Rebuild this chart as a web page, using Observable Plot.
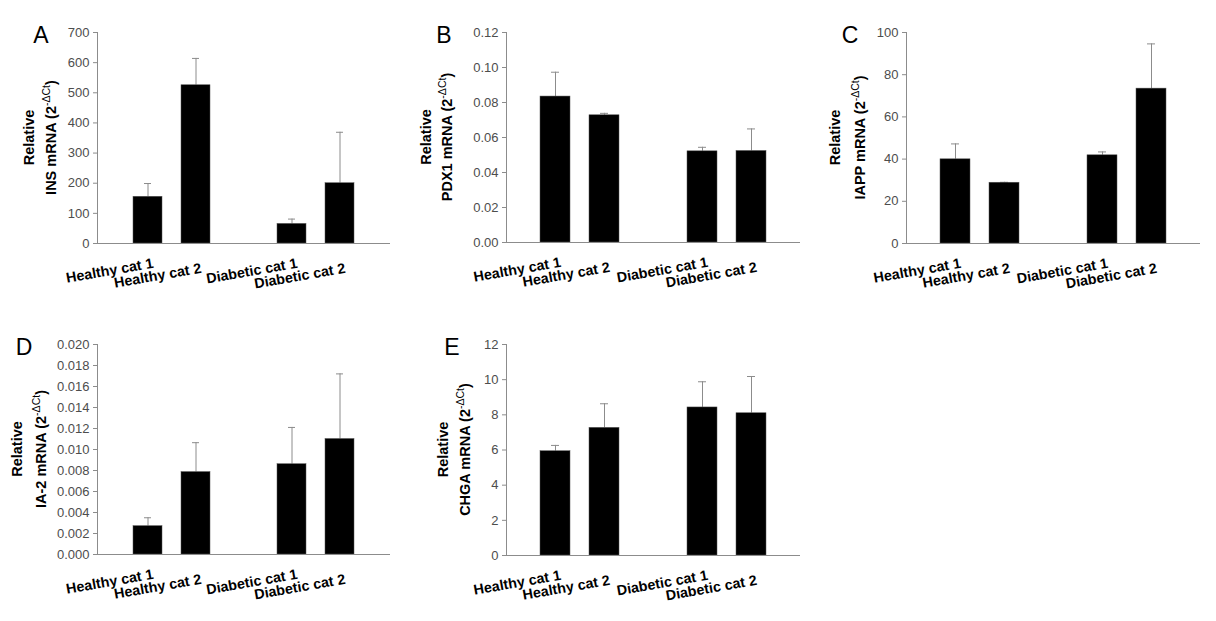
<!DOCTYPE html>
<html>
<head>
<meta charset="utf-8">
<script src="https://cdn.jsdelivr.net/npm/d3@7"></script>
<script src="https://cdn.jsdelivr.net/npm/@observablehq/plot@0.6"></script>
<style>
  html, body { margin: 0; padding: 0; background: #fff; }
  #fig { position: relative; width: 1216px; height: 621px; background: #fff; font-family: "Liberation Sans", Arial, sans-serif; }
  .panel { position: absolute; }
</style>
</head>
<body>
<div id="fig"></div>
<script>
// ---------- data ----------
const categories = ["Healthy cat 1", "Healthy cat 2", "Diabetic cat 1", "Diabetic cat 2"];
const slots = ["Healthy cat 1", "Healthy cat 2", " ", "Diabetic cat 1", "Diabetic cat 2"];

const insMean = [155, 525, 65, 200];
const insErr = [44, 89, 16, 169];
const insTicks = [0, 100, 200, 300, 400, 500, 600, 700];
const insTickLabels = ["0", "100", "200", "300", "400", "500", "600", "700"];

const pdx1Mean = [0.0834, 0.0727, 0.0521, 0.0523];
const pdx1Err = [0.0139, 0.0011, 0.0023, 0.0126];
const pdx1Ticks = [0, 0.02, 0.04, 0.06, 0.08, 0.10, 0.12];
const pdx1TickLabels = ["0.00", "0.02", "0.04", "0.06", "0.08", "0.10", "0.12"];

const iappMean = [39.9, 28.8, 41.8, 73.4];
const iappErr = [7.3, 0.2, 1.6, 21.2];
const iappTicks = [0, 20, 40, 60, 80, 100];
const iappTickLabels = ["0", "20", "40", "60", "80", "100"];

const ia2Mean = [0.0027, 0.00785, 0.0086, 0.0110];
const ia2Err = [0.0008, 0.0028, 0.0035, 0.0062];
const ia2Ticks = [0, 0.002, 0.004, 0.006, 0.008, 0.010, 0.012, 0.014, 0.016, 0.018, 0.020];
const ia2TickLabels = ["0.000", "0.002", "0.004", "0.006", "0.008", "0.010", "0.012", "0.014", "0.016", "0.018", "0.020"];

const chgaMean = [5.93, 7.26, 8.42, 8.09];
const chgaErr = [0.33, 1.37, 1.46, 2.09];
const chgaTicks = [0, 2, 4, 6, 8, 10, 12];
const chgaTickLabels = ["0", "2", "4", "6", "8", "10", "12"];

const panelLetters = ["A", "B", "C", "D", "E"];
const geneNames = ["INS", "PDX1", "IAPP", "IA-2", "CHGA"];

// ---------- layout ----------
const panels = [
  {letter: panelLetters[0], gene: geneNames[0], mean: insMean, err: insErr, ticks: insTicks, labels: insTickLabels,
   left: 0, top: 0, w: 400, h: 300, ml: 97, mr: 10, mt: 32, mb: 57, t1: -68, t2: -46, lx: -56},
  {letter: panelLetters[1], gene: geneNames[1], mean: pdx1Mean, err: pdx1Err, ticks: pdx1Ticks, labels: pdx1TickLabels,
   left: 400, top: 0, w: 420, h: 300, ml: 106, mr: 20, mt: 32, mb: 58, t1: -80, t2: -59, lx: -62},
  {letter: panelLetters[2], gene: geneNames[2], mean: iappMean, err: iappErr, ticks: iappTicks, labels: iappTickLabels,
   left: 820, top: 0, w: 396, h: 300, ml: 86, mr: 16, mt: 32, mb: 57, t1: -71, t2: -46, lx: -56},
  {letter: panelLetters[3], gene: geneNames[3], mean: ia2Mean, err: ia2Err, ticks: ia2Ticks, labels: ia2TickLabels,
   left: 0, top: 300, w: 400, h: 321, ml: 97, mr: 10, mt: 44, mb: 67, t1: -80, t2: -56, lx: -73},
  {letter: panelLetters[4], gene: geneNames[4], mean: chgaMean, err: chgaErr, ticks: chgaTicks, labels: chgaTickLabels,
   left: 400, top: 300, w: 420, h: 321, ml: 106, mr: 20, mt: 44, mb: 66, t1: -63, t2: -41, lx: -54}
];

const GRAY = "#8c8c8c";
const FONT = "'Liberation Sans', Arial, sans-serif";
const fig = document.getElementById("fig");

for (const p of panels) {
  const data = categories.map((c, i) => ({cat: c, mean: p.mean[i], top: p.mean[i] + p.err[i], i}));
  const even = categories.filter((c, i) => i % 2 === 0);
  const odd = categories.filter((c, i) => i % 2 === 1);
  const ymax = p.ticks[p.ticks.length - 1];
  const chart = Plot.plot({
    width: p.w, height: p.h,
    marginLeft: p.ml, marginRight: p.mr, marginTop: p.mt, marginBottom: p.mb,
    style: {fontFamily: FONT, fontSize: "13px", background: "transparent", overflow: "visible"},
    x: {type: "band", domain: slots, paddingInner: 0.39, paddingOuter: 0.695, axis: null},
    y: {domain: [0, ymax], axis: null},
    marks: [
      Plot.ruleX(data, {x: "cat", y1: "mean", y2: "top", stroke: GRAY, strokeWidth: 1}),
      Plot.tickY(data, {x: "cat", y: "top", stroke: GRAY, strokeWidth: 1, insetLeft: 11, insetRight: 11}),
      Plot.barY(data, {x: "cat", y: "mean", fill: "#000", stroke: "#555", strokeWidth: 0.5}),
      Plot.ruleY([0], {stroke: GRAY, strokeWidth: 1}),
      Plot.axisY({ticks: p.ticks, tickFormat: d => p.labels[p.ticks.indexOf(d)], tickSize: 4, tickPadding: 4,
                  stroke: GRAY, fill: "#4d4d4d", fontSize: 13}),
      Plot.text(even, {x: d => d, frameAnchor: "bottom", dx: 6, dy: 24, rotate: -10, textAnchor: "end",
                       lineAnchor: "bottom", fontWeight: "bold", fontSize: 14.3, fill: "#000"}),
      Plot.text(odd, {x: d => d, frameAnchor: "bottom", dx: 6, dy: 29, rotate: -10, textAnchor: "end",
                      lineAnchor: "bottom", fontWeight: "bold", fontSize: 14.3, fill: "#000"})
    ]
  });
  const svg = d3.select(chart);
  svg.selectAll('[aria-label="y-axis tick"]').attr("stroke", GRAY);
  svg.selectAll('[aria-label="y-axis tick label"]').attr("fill", "#4d4d4d");
  // y axis line
  svg.append("line")
    .attr("x1", p.ml + 0.5).attr("x2", p.ml + 0.5)
    .attr("y1", p.mt).attr("y2", p.h - p.mb)
    .attr("stroke", GRAY).attr("stroke-width", 1);
  // axis title (two lines, rotated)
  const cy = (p.mt + (p.h - p.mb)) / 2;
  const g = svg.append("g").attr("font-family", FONT).attr("font-weight", "bold").attr("font-size", 14.5).attr("fill", "#000");
  g.append("text")
    .attr("transform", `translate(${p.ml + p.t1},${cy}) rotate(-90)`)
    .attr("text-anchor", "middle").attr("dominant-baseline", "central")
    .text("Relative");
  const t2 = g.append("text")
    .attr("transform", `translate(${p.ml + p.t2},${cy}) rotate(-90)`)
    .attr("text-anchor", "middle").attr("dominant-baseline", "central");
  t2.append("tspan").text(p.gene + " mRNA (2");
  t2.append("tspan").attr("font-size", 10.5).attr("font-weight", "normal").attr("dy", -5).text("-\u0394Ct");
  t2.append("tspan").attr("dy", 5).text(")");
  // panel letter
  svg.append("text")
    .attr("x", p.ml + p.lx).attr("y", p.mt + 11)
    .attr("font-family", FONT).attr("font-size", 23).attr("fill", "#000")
    .text(p.letter);

  const div = document.createElement("div");
  div.className = "panel";
  div.style.left = p.left + "px";
  div.style.top = p.top + "px";
  div.appendChild(chart);
  fig.appendChild(div);
}
</script>
</body>
</html>
